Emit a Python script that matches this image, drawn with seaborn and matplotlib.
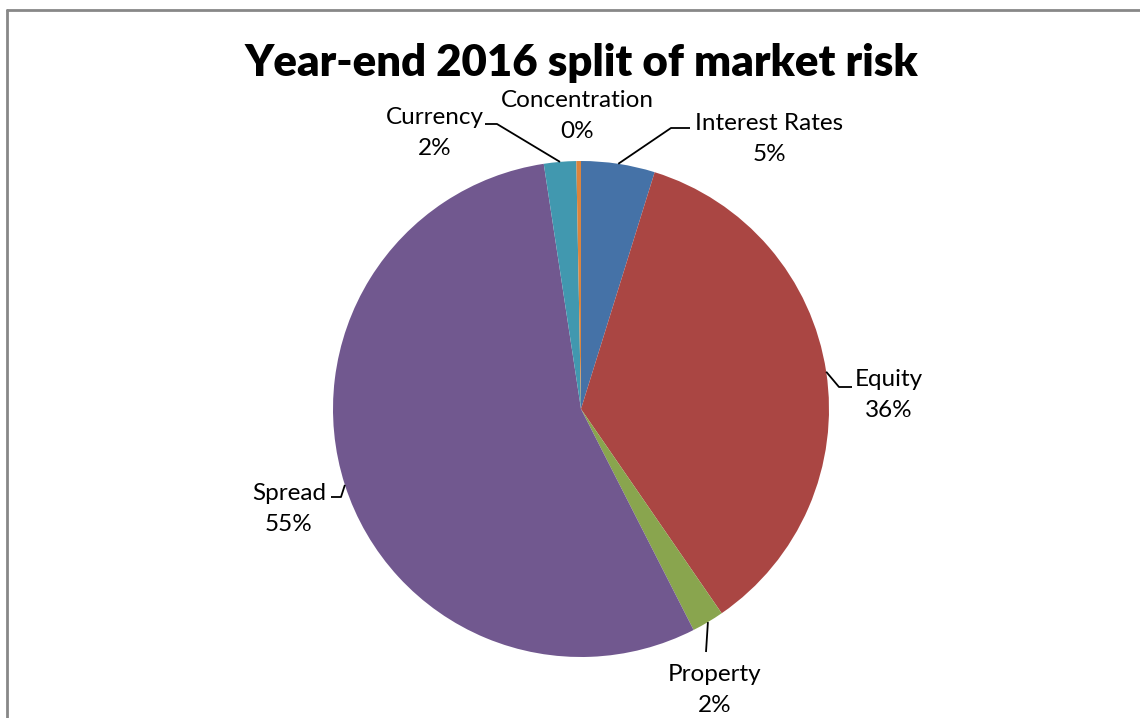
import matplotlib
matplotlib.use("Agg")
import matplotlib.pyplot as plt
import seaborn as sns
import numpy as np

# Market risk breakdown, year-end 2016 (share of total, %)
categories = ["Interest Rates", "Equity", "Property", "Spread", "Currency", "Concentration"]
shares = [4.8, 35.6, 2.1, 55.1, 2.1, 0.3]
colors = ["#4572A7", "#AA4643", "#89A54E", "#71588F", "#4198AF", "#DB843D"]
title = "Year-end 2016 split of market risk"

sns.set_theme(style="white")
plt.rcParams["font.family"] = ["Lato", "DejaVu Sans"]

W, H = 1140, 718
fig = plt.figure(figsize=(W / 100, H / 100), dpi=100)
ax = fig.add_axes([0, 0, 1, 1])

def py(y):
    return H - y

cx, cy, r = 581, 409, 248
wedges, _ = ax.pie(shares, colors=sns.color_palette(colors), startangle=90,
                   counterclock=False, center=(cx, py(cy)), radius=r,
                   wedgeprops=dict(linewidth=0), frame=True)
ax.set_xlim(0, W)
ax.set_ylim(0, H)
ax.set_aspect("equal")
ax.axis("off")

# label text centres and leader-line elbows (pixel layout)
label_pos = {
    "Interest Rates": (769, 139),
    "Equity": (889, 395),
    "Property": (715, 690),
    "Spread": (289, 509),
    "Currency": (435, 133),
    "Concentration": (577, 116),
}
leaders = {
    "Interest Rates": [(671, 128), (690, 128)],
    "Equity": [(839, 387), (852, 387)],
    "Property": [(706, 652)],
    "Spread": [(341, 497), (331, 497)],
    "Currency": [(497, 124), (485, 124)],
}

cum = np.cumsum([0] + shares)
total = sum(shares)
for i, (name, v) in enumerate(zip(categories, shares)):
    mid = (cum[i] + v / 2) / total * 2 * np.pi
    sx = cx + r * np.sin(mid)
    sy = cy - r * np.cos(mid)
    lx, ly = label_pos[name]
    ax.text(lx, py(ly), f"{name}\n{round(v)}%", ha="center", va="center",
            fontsize=17.5, linespacing=1.55, color="black")
    if name in leaders:
        pts = [(sx, sy)] + leaders[name]
        ax.plot([p[0] for p in pts], [py(p[1]) for p in pts], color="black",
                linewidth=1.3, solid_capstyle="butt")

ax.text(W / 2 + 11, py(63), title, ha="center", va="center",
        fontsize=31.5, fontweight="heavy", color="black")

# chart area border (top and left edges visible)
ax.plot([7, W], [py(10), py(10)], color="#888888", linewidth=2, clip_on=False)
ax.plot([7, 7], [py(10), 0], color="#888888", linewidth=2, clip_on=False)

fig.savefig("out.png", dpi=100)
